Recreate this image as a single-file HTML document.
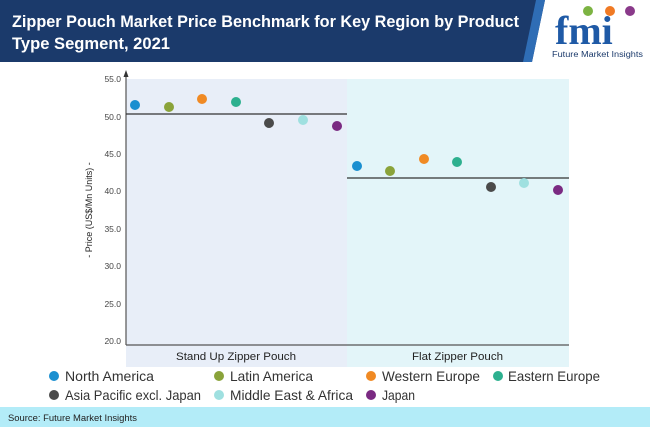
<!DOCTYPE html>
<html><head><style>
body{margin:0;width:650px;height:427px;overflow:hidden;background:#fff;font-family:"Liberation Sans",sans-serif}
</style></head><body>
<svg width="650" height="427" xmlns="http://www.w3.org/2000/svg" font-family="Liberation Sans, sans-serif">
<polygon points="0,0 545,0 532,62 0,62" fill="#1b3a6b"/>
<polygon points="536,0 545,0 532,62 523,62" fill="#2f6db5"/>
<text x="12" y="27" fill="#fff" font-size="17" font-weight="bold" textLength="507" lengthAdjust="spacingAndGlyphs">Zipper Pouch Market Price Benchmark for Key Region by Product</text>
<text x="12" y="49" fill="#fff" font-size="17" font-weight="bold" textLength="158" lengthAdjust="spacingAndGlyphs">Type Segment, 2021</text>
<text x="555" y="44" fill="#1f5aa6" font-size="40" font-weight="bold" font-family="Liberation Serif, serif">fmi</text>
<circle cx="588" cy="11" r="5" fill="#7cb342"/><circle cx="610" cy="11" r="5" fill="#f07a24"/><circle cx="630" cy="11" r="5" fill="#8a3a8a"/>
<text x="552" y="57" fill="#1b3a6b" font-size="8" textLength="91" lengthAdjust="spacingAndGlyphs">Future Market Insights</text>
<rect x="126" y="79" width="221" height="288" fill="#e8eef8"/>
<rect x="347" y="79" width="222" height="288" fill="#e3f5f9"/>
<line x1="126" y1="74" x2="126" y2="345" stroke="#555" stroke-width="1.2"/>
<polygon points="126,70 123.5,77 128.5,77" fill="#333"/>
<line x1="126" y1="345" x2="569" y2="345" stroke="#555" stroke-width="1.2"/>
<g font-size="8.5" fill="#444" text-anchor="end">
<text x="121" y="82">55.0</text><text x="121" y="120">50.0</text><text x="121" y="157">45.0</text><text x="121" y="194">40.0</text><text x="121" y="232">35.0</text><text x="121" y="269">30.0</text><text x="121" y="307">25.0</text><text x="121" y="344">20.0</text>
</g>
<text transform="translate(92,210) rotate(-90)" font-size="9" fill="#222" text-anchor="middle">- Price (US$/Mn Units) -</text>
<line x1="126" y1="114" x2="347" y2="114" stroke="#333" stroke-width="1.2"/>
<line x1="347" y1="178" x2="569" y2="178" stroke="#333" stroke-width="1.2"/>
<g>
<circle cx="135" cy="105" r="5" fill="#1a8fd0"/><circle cx="169" cy="107" r="5" fill="#8aa33a"/><circle cx="202" cy="99" r="5" fill="#f08a24"/><circle cx="236" cy="102" r="5" fill="#2db08f"/><circle cx="269" cy="123" r="5" fill="#4a4a4a"/><circle cx="303" cy="120" r="5" fill="#9fe0e0"/><circle cx="337" cy="126" r="5" fill="#7a2a82"/>
<circle cx="357" cy="166" r="5" fill="#1a8fd0"/><circle cx="390" cy="171" r="5" fill="#8aa33a"/><circle cx="424" cy="159" r="5" fill="#f08a24"/><circle cx="457" cy="162" r="5" fill="#2db08f"/><circle cx="491" cy="187" r="5" fill="#4a4a4a"/><circle cx="524" cy="183" r="5" fill="#9fe0e0"/><circle cx="558" cy="190" r="5" fill="#7a2a82"/>
</g>
<g font-size="11" fill="#222"><text x="176" y="360" textLength="120" lengthAdjust="spacingAndGlyphs">Stand Up Zipper Pouch</text><text x="412" y="360" textLength="91" lengthAdjust="spacingAndGlyphs">Flat Zipper Pouch</text></g>
<g font-size="14" fill="#333">
<circle cx="54" cy="376" r="5" fill="#1a8fd0"/><text x="65" y="381" textLength="89" lengthAdjust="spacingAndGlyphs">North America</text>
<circle cx="219" cy="376" r="5" fill="#8aa33a"/><text x="230" y="381" textLength="83" lengthAdjust="spacingAndGlyphs">Latin America</text>
<circle cx="371" cy="376" r="5" fill="#f08a24"/><text x="382" y="381" textLength="98" lengthAdjust="spacingAndGlyphs">Western Europe</text>
<circle cx="498" cy="376" r="5" fill="#2db08f"/><text x="508" y="381" textLength="92" lengthAdjust="spacingAndGlyphs">Eastern Europe</text>
<circle cx="54" cy="395" r="5" fill="#4a4a4a"/><text x="65" y="400" textLength="136" lengthAdjust="spacingAndGlyphs">Asia Pacific excl. Japan</text>
<circle cx="219" cy="395" r="5" fill="#9fe0e0"/><text x="230" y="400" textLength="123" lengthAdjust="spacingAndGlyphs">Middle East &amp; Africa</text>
<circle cx="371" cy="395" r="5" fill="#7a2a82"/><text x="382" y="400" textLength="33" lengthAdjust="spacingAndGlyphs">Japan</text>
</g>
<rect x="0" y="407" width="650" height="20" fill="#b3ecf8"/>
<text x="8" y="421" font-size="9" fill="#222" textLength="129" lengthAdjust="spacingAndGlyphs">Source: Future Market Insights</text>
</svg>
</body></html>
